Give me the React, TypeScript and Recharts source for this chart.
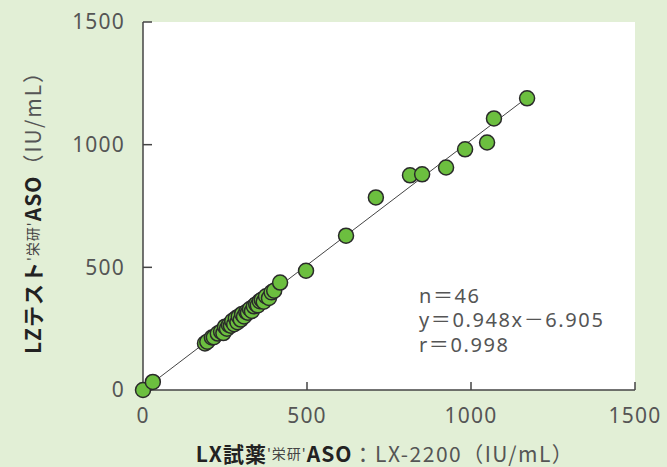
import React from "react";
import {
  ScatterChart,
  Scatter,
  XAxis,
  YAxis,
  CartesianGrid,
  ReferenceLine,
} from "recharts";

// LX試薬'栄研'ASO (x) vs LZテスト'栄研'ASO (y), IU/mL
const lxValues = [
  0, 30, 189, 196, 210, 216, 228, 238, 245, 250, 256, 262, 268, 272, 278, 283,
  288, 292, 298, 302, 308, 315, 320, 326, 332, 338, 345, 350, 356, 362, 368,
  375, 384, 392, 400, 418, 497, 619, 710, 814, 851, 924, 982, 1049, 1070, 1171,
];
const lzValues = [
  0, 33, 190, 197, 214, 215, 230, 238, 232, 258, 250, 265, 262, 281, 268, 292,
  276, 300, 287, 310, 300, 318, 315, 330, 322, 341, 350, 345, 362, 368, 360,
  382, 375, 398, 405, 438, 486, 629, 785, 875, 879, 907, 981, 1009, 1107, 1189,
];
const axisTicks = [0, 500, 1000, 1500];
const fitStart = { x: 0, y: 0 };
const fitEnd = { x: 1171, y: 1192 };
const statLines = ["n＝46", "y＝0.948x－6.905", "r＝0.998"];

const data = lxValues.map((x, i) => ({ x, y: lzValues[i] }));

const BG = "#e2efd6";
const NUM_FONT = "'Noto Sans', 'Noto Sans CJK JP', sans-serif";
const JP_FONT = "'Noto Sans CJK JP', 'Noto Sans', sans-serif";

const Dot = (props: any) => (
  <circle
    cx={props.cx}
    cy={props.cy}
    r={7.5}
    fill="#6cbf3f"
    stroke="#2a2a2a"
    strokeWidth={1.5}
  />
);

const tickStyle = {
  fill: "#555",
  fontSize: 21,
  fontFamily: NUM_FONT,
  letterSpacing: 1.2,
};

const App: React.FC = () => {
  return (
    <div
      style={{
        position: "fixed",
        left: 0,
        top: 0,
        width: 667,
        height: 467,
        background: BG,
      }}
    >
      <ScatterChart
        width={667}
        height={467}
        margin={{ top: 22, right: 32, bottom: 47, left: 83 }}
      >
        <CartesianGrid fill="#ffffff" horizontal={false} vertical={false} />
        <XAxis
          type="number"
          dataKey="x"
          domain={[0, 1500]}
          ticks={axisTicks}
          height={30}
          tickSize={-8}
          tickMargin={26}
          tick={tickStyle}
          axisLine={{ stroke: "#444", strokeWidth: 1.5 }}
          tickLine={{ stroke: "#444", strokeWidth: 1.5 }}
        />
        <YAxis
          type="number"
          dataKey="y"
          domain={[0, 1500]}
          ticks={axisTicks}
          width={60}
          tickSize={-9}
          tickMargin={27}
          tick={tickStyle}
          axisLine={{ stroke: "#444", strokeWidth: 1.5 }}
          tickLine={{ stroke: "#444", strokeWidth: 1.5 }}
        />
        <Scatter data={data} shape={<Dot />} isAnimationActive={false} />
        <ReferenceLine
          segment={[fitStart, fitEnd]}
          stroke="#444"
          strokeWidth={1}
        />
      </ScatterChart>
      <svg
        width={667}
        height={467}
        style={{ position: "absolute", left: 0, top: 0, pointerEvents: "none" }}
      >
        {statLines.map((s, i) => (
          <text
            key={s}
            x={419}
            y={295 + i * 24.5}
            dominantBaseline="central"
            fill="#555"
            fontSize={20}
            letterSpacing={1.6}
            fontFamily={NUM_FONT}
          >
            {s}
          </text>
        ))}
        <text
          x={32}
          y={207}
          transform="rotate(-90, 32, 207)"
          textAnchor="middle"
          dominantBaseline="central"
          fontFamily={JP_FONT}
          fontSize={21}
          letterSpacing={1}
          fill="#222"
        >
          <tspan fontWeight={700}>LZテスト</tspan>
          <tspan fontSize={14} fill="#444">'栄研'</tspan>
          <tspan fontWeight={700}>ASO</tspan>
          <tspan fill="#555" letterSpacing={2}>（IU/mL）</tspan>
        </text>
        <text
          x={385}
          y={453}
          textAnchor="middle"
          dominantBaseline="central"
          fontFamily={JP_FONT}
          fontSize={21}
          letterSpacing={1}
          fill="#222"
        >
          <tspan fontWeight={700}>LX試薬</tspan>
          <tspan fontSize={14} fill="#444">'栄研'</tspan>
          <tspan fontWeight={700}>ASO</tspan>
          <tspan fill="#555" letterSpacing={1.5}>：LX-2200（IU/mL）</tspan>
        </text>
      </svg>
    </div>
  );
};

export default App;
